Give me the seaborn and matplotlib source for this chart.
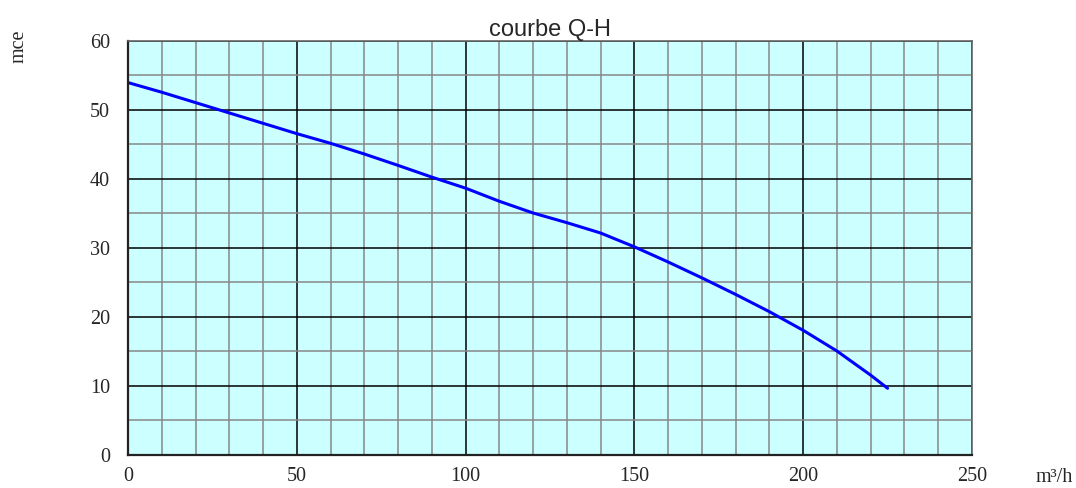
import matplotlib
matplotlib.use("Agg")
import matplotlib.pyplot as plt
from matplotlib.ticker import MultipleLocator
import pandas as pd
import seaborn as sns

# debit (m3/h) et hauteur (mce)
debit = [0, 10, 20, 30, 40, 50, 60, 70, 80, 90, 100, 110, 120, 130, 140,
         150, 160, 170, 180, 190, 200, 210, 220, 225]
hauteur = [53.9, 52.5, 51.0, 49.5, 48.0, 46.5, 45.1, 43.55, 41.9, 40.2, 38.6,
           36.7, 35.0, 33.6, 32.1, 30.1, 27.9, 25.6, 23.2, 20.7, 18.0, 15.0,
           11.5, 9.6]
titre = "courbe Q-H"
label_x = "m³/h"
label_y = "mce"

df = pd.DataFrame({"Q": debit, "H": hauteur})

sns.set_style("white")
plt.rcParams["font.family"] = ["Liberation Serif", "DejaVu Serif"]

fig = plt.figure(figsize=(10.76, 4.88), dpi=100)
ax = fig.add_axes([0.119, 0.0686, 0.7843, 0.8484])
ax.set_facecolor("#CCFFFF")

sns.lineplot(data=df, x="Q", y="H", color="#0000FF", linewidth=2.2, ax=ax)

ax.set_xlim(0, 250)
ax.set_ylim(0, 60)
ax.xaxis.set_major_locator(MultipleLocator(50))
ax.xaxis.set_minor_locator(MultipleLocator(10))
ax.yaxis.set_major_locator(MultipleLocator(10))
ax.yaxis.set_minor_locator(MultipleLocator(5))
ax.set_axisbelow(True)
ax.grid(which="minor", color="#888888", linewidth=1.1)
ax.grid(which="major", color="black", linewidth=1.1)
ax.tick_params(which="both", length=0)
ax.tick_params(axis="x", pad=9, labelsize=14.5)
ax.tick_params(axis="y", pad=13, labelsize=14.5)

for side in ["top", "right"]:
    ax.spines[side].set_color("#666666")
    ax.spines[side].set_linewidth(1.2)
for side in ["left", "bottom"]:
    ax.spines[side].set_color("#222222")
    ax.spines[side].set_linewidth(1.6)

ax.set_xlabel("")
ax.set_ylabel("")
ax.set_title(titre, fontsize=17, family=["Liberation Sans", "DejaVu Sans"], pad=3)
fig.text(0.0177, 0.906, label_y, rotation=90, ha="center", va="center", fontsize=14.5)
fig.text(0.98, 0.022, label_x, ha="center", va="center", fontsize=14.5)

fig.savefig("out.png", dpi=100)
